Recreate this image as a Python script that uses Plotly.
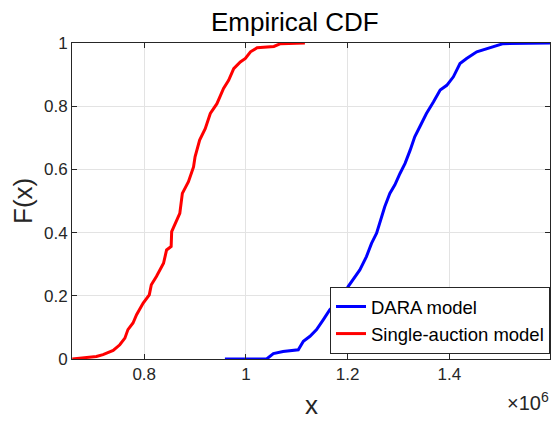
import plotly.graph_objects as go

# Empirical CDF data (x in units of 1e6)
single_x = [0.6586, 0.706, 0.719, 0.739, 0.752, 0.762, 0.768, 0.778, 0.785, 0.798, 0.810, 0.814,
            0.824, 0.838, 0.844, 0.853, 0.854, 0.861, 0.870, 0.875, 0.887, 0.897, 0.900, 0.909,
            0.920, 0.930, 0.943, 0.956, 0.966, 0.976, 0.989, 0.999, 1.009, 1.022, 1.055, 1.068, 1.116]
single_F = [0.0, 0.008, 0.014, 0.027, 0.045, 0.066, 0.093, 0.114, 0.14, 0.177, 0.203, 0.235,
            0.261, 0.303, 0.345, 0.356, 0.403, 0.429, 0.461, 0.524, 0.561, 0.608, 0.64, 0.693,
            0.729, 0.777, 0.808, 0.856, 0.882, 0.919, 0.94, 0.951, 0.972, 0.985, 0.989, 0.998, 1.0]

dara_x = [0.9587, 1.0407, 1.054, 1.073, 1.103, 1.113, 1.126, 1.139, 1.152, 1.165, 1.178, 1.191,
          1.201, 1.211, 1.224, 1.237, 1.247, 1.257, 1.267, 1.273, 1.283, 1.293, 1.303, 1.313,
          1.323, 1.332, 1.342, 1.355, 1.369, 1.382, 1.395, 1.408, 1.421, 1.434, 1.454, 1.474,
          1.487, 1.506, 1.598]
dara_F = [0.0, 0.0, 0.017, 0.024, 0.029, 0.056, 0.072, 0.093, 0.124, 0.156, 0.177, 0.198,
          0.229, 0.251, 0.282, 0.324, 0.366, 0.398, 0.451, 0.482, 0.524, 0.551, 0.587, 0.619,
          0.661, 0.703, 0.735, 0.777, 0.814, 0.851, 0.866, 0.893, 0.935, 0.951, 0.972, 0.982,
          0.987, 0.998, 1.0]

x_ticks = [0.8, 1.0, 1.2, 1.4]
x_tick_labels = ["0.8", "1", "1.2", "1.4"]
y_ticks = [0, 0.2, 0.4, 0.6, 0.8, 1]
y_tick_labels = ["0", "0.2", "0.4", "0.6", "0.8", "1"]

FONT = "Liberation Sans, Arial, Helvetica, sans-serif"
AX = "#262626"

ML, MR, MT, MB = 72, 1, 43, 62
WID, HEI = 551, 421
W = WID - ML - MR
H = HEI - MT - MB

def py(yp):
    return (HEI - MB - yp) / H

def px(xp):
    return (xp - ML) / W

fig = go.Figure()
fig.add_trace(go.Scatter(x=dara_x, y=dara_F, mode="lines", name="DARA model",
                         line=dict(color="#0000ff", width=3)))
fig.add_trace(go.Scatter(x=single_x, y=single_F, mode="lines", name="Single-auction model",
                         line=dict(color="#ff0000", width=3)))

axis_common = dict(showline=True, linecolor=AX, linewidth=1, mirror="ticks",
                   ticks="inside", ticklen=5, tickcolor=AX, showgrid=True,
                   gridcolor="#e3e3e3", gridwidth=1, zeroline=False,
                   tickfont=dict(family=FONT, size=17, color=AX))

fig.update_layout(
    width=WID, height=HEI,
    margin=dict(l=ML, r=MR, t=MT, b=MB, autoexpand=False),
    paper_bgcolor="white", plot_bgcolor="white",
    xaxis=dict(range=[0.658, 1.598], tickvals=x_ticks, ticktext=x_tick_labels, **axis_common),
    yaxis=dict(range=[0, 1], tickvals=y_ticks, ticktext=y_tick_labels, **axis_common),
    legend=dict(x=1, y=py(354), xanchor="right", yanchor="bottom", bgcolor="white",
                bordercolor=AX, borderwidth=1, font=dict(family=FONT, size=18.5, color="black"),
                tracegroupgap=0, itemwidth=30),
    showlegend=True,
)

fig.add_annotation(text="Empirical CDF", x=px(295), y=py(21.5), xref="paper", yref="paper",
                   showarrow=False, font=dict(family=FONT, size=26, color="black"),
                   xanchor="center", yanchor="middle")
fig.add_annotation(text="x", x=0.5, y=py(405), xref="paper", yref="paper",
                   showarrow=False, font=dict(family=FONT, size=26, color=AX),
                   xanchor="center", yanchor="middle")
fig.add_annotation(text="F(x)", x=px(23), y=py(201), xref="paper", yref="paper", textangle=-90,
                   showarrow=False, font=dict(family=FONT, size=26, color=AX),
                   xanchor="center", yanchor="middle")
fig.add_annotation(text="×10<sup>6</sup>", x=px(551), y=py(401), xref="paper", yref="paper",
                   showarrow=False, font=dict(family=FONT, size=20, color=AX),
                   xanchor="right", yanchor="middle")

fig.write_html("out.html", config={"displayModeBar": False},
               post_script="document.body.style.margin='0px';")
